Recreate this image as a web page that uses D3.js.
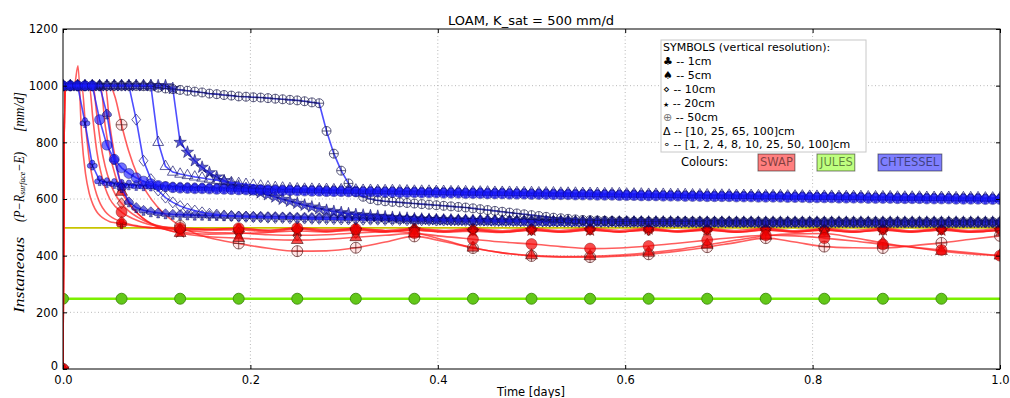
<!DOCTYPE html>
<html><head><meta charset="utf-8">
<script src="https://cdn.jsdelivr.net/npm/d3@7"></script>
<style>body{margin:0;background:#fff}svg{display:block}</style>
</head><body>
<svg id="c" width="1010" height="398"></svg>
<script>
// ---------------- DATA ----------------
const titleText = "LOAM, K_sat = 500 mm/d";
const xTicks = [0, 0.2, 0.4, 0.6, 0.8, 1.0];
const yTicks = [0, 200, 400, 600, 800, 1000, 1200];
const xTickLabels = ["0.0", "0.2", "0.4", "0.6", "0.8", "1.0"];
const yTickLabels = ["0", "200", "400", "600", "800", "1000", "1200"];
const legendGlyphs = ["♣", "♠", "⋄", "★", "⊕", "Δ", "∘"];
const legendTexts = [" -- 1cm", " -- 5cm", " -- 10cm", " -- 20cm", " -- 50cm",
  " -- [10, 25, 65, 100]cm", " -- [1, 2, 4, 8, 10, 25, 50, 100]cm"];
const modelNames = ["SWAP", "JULES", "CHTESSEL"];

// JULES (every 1/16 day)
const julesTime = [0, 0.0625, 0.125, 0.1875, 0.25, 0.3125, 0.375, 0.4375, 0.5, 0.5625, 0.625, 0.6875, 0.75, 0.8125, 0.875, 0.9375, 1.0];
const julesFlux = [248, 248, 248, 248, 248, 248, 248, 248, 248, 248, 248, 248, 248, 248, 248, 248, 248];
const julesCap  = [498, 498, 498, 498, 498, 498, 498, 498, 498, 498, 498, 498, 498, 498, 498, 498, 498];

// SWAP
const swapTime = [0, 0.002, 0.012, 0.016, 0.02, 0.024, 0.028, 0.032, 0.036, 0.04, 0.045, 0.05, 0.056, 0.0625,
  0.07, 0.08, 0.09, 0.1, 0.1125, 0.125, 0.14, 0.156, 0.1875, 0.219, 0.25, 0.281, 0.3125, 0.344, 0.375, 0.406,
  0.4375, 0.469, 0.5, 0.531, 0.5625, 0.594, 0.625, 0.656, 0.6875, 0.719, 0.75, 0.781, 0.8125, 0.844, 0.875,
  0.906, 0.9375, 0.969, 1.0];
const swap1cm = [0, 1000, 1000, 1070, 820, 690, 620, 580, 555, 540, 528, 520, 516, 513,
  508, 503, 500, 498, 496, 495, 494, 493, 496, 488, 497, 488, 497, 489, 497, 489,
  496, 488, 496, 489, 497, 489, 497, 488, 496, 489, 497, 488, 496, 489, 497, 488, 496, 489, 497];
const swap5cm = [0, 1000, 1000, 1000, 1000, 860, 740, 665, 615, 582, 556, 540, 528, 520,
  512, 505, 500, 497, 494, 492, 491, 490, 492, 484, 494, 485, 493, 484, 494, 486,
  492, 484, 493, 485, 494, 484, 492, 485, 493, 484, 494, 485, 492, 484, 493, 485, 494, 484, 492];
const swap10cm = [0, 1000, 1000, 1000, 1000, 1000, 1000, 1000, 900, 800, 715, 660, 615, 585,
  558, 535, 518, 507, 498, 492, 486, 482, 480, 474, 472, 474, 480, 485, 490, 484,
  490, 483, 490, 484, 491, 484, 490, 484, 491, 483, 490, 484, 491, 484, 490, 483, 491, 484, 490];
const swap20cm = [0, 1000, 1000, 1000, 1000, 1000, 1000, 1000, 1000, 1000, 1000, 860, 740, 645,
  590, 548, 520, 503, 490, 483, 478, 476, 478, 482, 487, 484, 490, 484, 491, 483,
  486, 482, 490, 483, 490, 484, 494, 485, 490, 483, 491, 484, 490, 483, 491, 484, 490, 483, 490];
const swap50cm = [0, 1000, 1000, 1000, 1000, 1000, 1000, 1000, 1000, 1000, 1000, 1000, 955, 862,
  770, 680, 620, 575, 535, 505, 480, 463, 443, 426, 416, 417, 428, 448, 468, 450,
  427, 410, 399, 395, 395, 398, 405, 416, 430, 447, 462, 448, 432, 428, 427, 435, 445, 458, 470];
const swap4L = [0, 1000, 1000, 1000, 1000, 1000, 1000, 1000, 1000, 1000, 860, 760, 680, 625,
  585, 548, 522, 505, 490, 480, 472, 467, 462, 457, 455, 458, 465, 472, 478, 455,
  428, 410, 401, 397, 398, 402, 410, 422, 438, 455, 470, 477, 478, 463, 445, 430, 416, 406, 400];
const swap8L = [0, 1000, 1000, 1000, 1000, 1000, 1000, 880, 770, 700, 640, 600, 573, 554,
  538, 523, 512, 505, 500, 498, 495, 493, 497, 490, 498, 492, 494, 488, 480, 468,
  458, 448, 441, 432, 425, 427, 434, 444, 455, 465, 472, 470, 462, 452, 440, 430, 420, 410, 400];

// CHTESSEL (every 1/128 day)
const chtTime = d3.range(129).map(i => i / 128);
const cht1cm = [1000,1000,1000,870,720,665,658,655, 652,650,648,647,646,645,644,643,
  642,641,640,640,639,638,638,637, 636,636,635,635,634,634,633,633,
  632,632,631,631,630,630,630,629, 629,628,628,628,627,627,626,626,
  626,625,625,625,624,624,624,623, 623,623,622,622,622,621,621,621,
  620,620,620,619,619,619,618,618, 618,617,617,617,616,616,616,615,
  615,615,614,614,614,613,613,613, 612,612,612,612,611,611,611,610,
  610,610,610,609,609,609,608,608, 608,608,607,607,607,607,606,606,
  606,606,605,605,605,605,604,604, 604,604,603,603,603,603,602,602, 602];
const cht5cm = [1000,1000,1000,1000,1000,1000,900,740, 640,590,570,560,555,551,548,546,
  545,544,543,543,542,542,541,541, 540,540,539,539,538,538,537,537,
  536,536,535,535,535,534,534,533, 533,533,532,532,531,531,531,530,
  530,530,529,529,529,528,528,528, 527,527,527,526,526,526,525,525,
  525,525,524,524,524,524,523,523, 523,523,523,522,522,522,522,522,
  521,521,521,521,521,521,520,520, 520,520,520,520,520,520,520,519,
  519,519,519,519,519,519,519,519, 519,519,519,519,518,518,518,518,
  518,518,518,518,518,518,518,518, 518,518,518,518,518,518,518,518, 518];
const cht10cm = [1000,1000,1000,1000,1000,1000,1000,1000, 1000,1000,880,735,670,630,605,588,
  575,566,559,553,548,545,542,540, 538,537,536,535,534,533,533,532,
  531,531,530,530,529,529,528,528, 528,527,527,527,526,526,526,525,
  525,525,525,524,524,524,524,523, 523,523,523,522,522,522,522,522,
  521,521,521,521,521,520,520,520, 520,520,520,520,519,519,519,519,
  519,519,519,519,519,519,519,519, 519,519,519,519,518,518,518,518,
  518,518,518,518,518,518,518,518, 518,518,518,518,518,518,518,518,
  518,518,518,518,518,518,518,518, 518,518,518,518,518,518,518,518, 518];
const cht20cm = [1000,1000,1000,1000,1000,1000,1000,1000, 1000,1000,1000,1000,1000,1000,1000,990,
  800,765,735,712,693,678,665,654, 645,637,629,622,615,607,599,592,
  585,578,572,566,560,556,552,548, 545,543,541,539,537,535,533,532,
  530,529,528,527,526,526,525,525, 524,524,523,523,522,522,522,521,
  521,521,520,520,520,520,519,519, 519,519,519,519,519,519,519,519,
  519,519,519,519,518,518,518,518, 518,518,518,518,518,518,518,518,
  518,518,518,518,518,518,518,518, 518,518,518,518,518,518,518,518,
  518,518,518,518,518,518,518,518, 518,518,518,518,518,518,518,518, 518];
const cht50cm = [1000,1000,1000,1000,1000,1000,1000,1000, 1000,1000,999,998,997,993,990,988,
  985,982,979,976,972,970,967,965, 962,961,959,958,956,954,952,950,
  948,945,941,938,840,760,700,655, 625,608,600,595,592,590,588,586,
  584,582,580,578,576,574,572,570, 567,564,561,558,555,552,549,546,
  543,540,537,534,532,530,528,526, 525,524,523,522,521,521,520,520,
  520,520,520,520,520,520,520,520, 519,519,519,519,519,519,519,519,
  519,519,519,519,519,519,519,519, 519,519,519,519,519,519,519,519,
  519,519,519,519,519,519,519,519, 519,519,519,519,519,519,519,519, 519];
const cht4L = [1000,1000,1000,1000,1000,1000,1000,1000, 1000,1000,1000,1000,1000,800,715,695,
  688,683,678,674,670,666,662,658, 655,652,649,646,643,641,639,637,
  636,635,635,634,634,633,633,632, 632,631,631,630,630,630,629,629,
  628,628,628,627,627,626,626,626, 625,625,625,624,624,624,623,623,
  623,622,622,622,621,621,621,620, 620,620,619,619,619,618,618,618,
  617,617,617,616,616,616,615,615, 615,614,614,614,613,613,613,612,
  612,612,612,611,611,611,610,610, 610,610,609,609,609,609,608,608,
  608,608,607,607,607,607,606,606, 606,606,605,605,605,605,604,604, 604];
const cht8L = [1000,1000,1000,1000,1000,880,790,740, 710,690,675,663,654,648,644,640,
  638,637,636,636,635,634,634,633, 632,632,631,631,630,630,629,629,
  628,628,627,627,626,626,626,625, 625,624,624,624,623,623,622,622,
  622,621,621,621,620,620,620,619, 619,619,618,618,618,617,617,617,
  616,616,616,615,615,615,614,614, 614,613,613,613,612,612,612,611,
  611,611,610,610,610,609,609,609, 608,608,608,608,607,607,607,606,
  606,606,606,605,605,605,604,604, 604,604,603,603,603,603,602,602,
  602,602,601,601,601,601,600,600, 600,600,599,599,599,599,598,598, 598];

// ---------------- CHART ----------------
const M = {l: 63, r: 1000, t: 29, b: 369};
const x = d3.scaleLinear().domain([0, 1]).range([M.l, M.r]);
const y = d3.scaleLinear().domain([0, 1200]).range([M.b, M.t]);
const svg = d3.select('#c');
const FONT = "'DejaVu Sans', sans-serif";

svg.append('defs').append('clipPath').attr('id', 'clip')
  .append('rect').attr('x', M.l).attr('y', M.t).attr('width', M.r - M.l).attr('height', M.b - M.t);

// grid
const grid = svg.append('g').attr('stroke', '#8a8a8a').attr('stroke-width', 0.6).attr('stroke-dasharray', '1,2.5');
grid.selectAll('.gx').data(xTicks.slice(1, -1)).join('line')
  .attr('x1', d => x(d)).attr('x2', d => x(d)).attr('y1', M.t).attr('y2', M.b);
grid.selectAll('.gy').data(yTicks.slice(1, -1)).join('line')
  .attr('y1', d => y(d)).attr('y2', d => y(d)).attr('x1', M.l).attr('x2', M.r);

// marker shapes (unit size)
function circ(cx, cy, r) {
  return `M${cx - r},${cy}a${r},${r} 0 1,0 ${2 * r},0a${r},${r} 0 1,0 ${-2 * r},0Z`;
}
const shapes = {
  club: circ(0, -0.24, 0.25) + circ(-0.25, 0.08, 0.25) + circ(0.25, 0.08, 0.25) + 'M-0.14,0.5L0,0.05L0.14,0.5Z',
  spade: 'M0,-0.5C0.15,-0.3,0.5,-0.12,0.46,0.12C0.42,0.32,0.14,0.32,0.05,0.18L0.15,0.5L-0.15,0.5L-0.05,0.18C-0.14,0.32,-0.42,0.32,-0.46,0.12C-0.5,-0.12,-0.15,-0.3,0,-0.5Z',
  diamond: 'M0,-0.5L0.4,0L0,0.5L-0.4,0Z',
  star: d3.symbol(d3.symbolStar, 0.33)(),
  oplus: circ(0, 0, 0.5) + 'M-0.5,0H0.5M0,-0.5V0.5',
  tri: d3.symbol(d3.symbolTriangle, 0.42)(),
  circle: circ(0, 0, 0.5)
};

const plot = svg.append('g').attr('clip-path', 'url(#clip)');

function drawLine(g, ts, vs, color, width, opacity, curve) {
  const pts = ts.map((t, i) => [t, vs[i]]);
  g.append('path').datum(pts)
    .attr('d', d3.line().x(d => x(d[0])).y(d => y(d[1])).curve(curve))
    .attr('fill', 'none').attr('stroke', color).attr('stroke-width', width).attr('stroke-opacity', opacity)
    .attr('stroke-linejoin', 'round');
  return pts;
}
function drawMarkers(g, pts, shape, size, fill, stroke, sw) {
  g.selectAll(null).data(pts).join('path')
    .attr('d', shapes[shape])
    .attr('transform', d => `translate(${x(d[0])},${y(d[1])}) scale(${size})`)
    .attr('fill', fill).attr('stroke', stroke).attr('stroke-width', sw)
    .attr('vector-effect', 'non-scaling-stroke');
}

// JULES
const gJ = plot.append('g');
drawLine(gJ, julesTime, julesCap, '#c8c400', 1.6, 1, d3.curveLinear);
const jPts = drawLine(gJ, julesTime, julesFlux, '#7cf000', 2.6, 1, d3.curveLinear);
drawMarkers(gJ, jPts.filter(d => d[0] < 1), 'circle', 11, '#62c818', '#3f8a0c', 0.9);

// SWAP
const swapSeries = [
  {v: swap1cm, shape: 'club', size: 10, fill: 'rgba(240,0,0,0.75)', stroke: 'rgba(90,0,0,0.6)'},
  {v: swap5cm, shape: 'spade', size: 11, fill: 'rgba(240,0,0,0.75)', stroke: 'rgba(90,0,0,0.6)'},
  {v: swap10cm, shape: 'diamond', size: 11, fill: 'rgba(240,0,0,0.35)', stroke: 'rgba(80,20,20,0.8)'},
  {v: swap20cm, shape: 'star', size: 12, fill: 'rgba(230,0,0,0.8)', stroke: 'rgba(90,0,0,0.6)'},
  {v: swap50cm, shape: 'oplus', size: 11, fill: 'rgba(255,80,80,0.15)', stroke: 'rgba(80,25,25,0.85)'},
  {v: swap4L, shape: 'tri', size: 12, fill: 'rgba(240,0,0,0.7)', stroke: 'rgba(80,20,20,0.8)'},
  {v: swap8L, shape: 'circle', size: 11, fill: 'rgba(245,0,0,0.7)', stroke: 'rgba(120,0,0,0.5)'}
];
const gS = plot.append('g');
swapSeries.forEach(s => {
  s.pts = drawLine(gS, swapTime, s.v, '#ff1a1a', 1.6, 0.7, d3.curveMonotoneX);
});
swapSeries.forEach(s => {
  const mk = s.pts.filter(d => Math.abs(d[0] * 16 - Math.round(d[0] * 16)) < 1e-6);
  drawMarkers(gS, mk, s.shape, s.size, s.fill, s.stroke, 0.8);
});

// CHTESSEL
const chtSeries = [
  {v: cht1cm, shape: 'club', size: 10, fill: 'rgba(10,10,255,0.6)', stroke: 'rgba(0,0,90,0.55)'},
  {v: cht5cm, shape: 'spade', size: 10, fill: 'rgba(10,10,200,0.6)', stroke: 'rgba(0,0,70,0.6)'},
  {v: cht10cm, shape: 'diamond', size: 11, fill: 'none', stroke: 'rgba(20,20,110,0.85)'},
  {v: cht20cm, shape: 'star', size: 12, fill: 'rgba(20,20,200,0.7)', stroke: 'rgba(0,0,80,0.6)'},
  {v: cht50cm, shape: 'oplus', size: 9, fill: 'none', stroke: 'rgba(20,20,70,0.85)'},
  {v: cht4L, shape: 'tri', size: 11, fill: 'none', stroke: 'rgba(20,20,110,0.85)'},
  {v: cht8L, shape: 'circle', size: 10, fill: 'rgba(20,20,255,0.6)', stroke: 'rgba(0,0,90,0.5)'}
];
const gC = plot.append('g');
chtSeries.forEach(s => {
  const pts = drawLine(gC, chtTime, s.v, '#2222ff', 1.6, 0.8, d3.curveLinear);
  drawMarkers(gC, pts, s.shape, s.size, s.fill, s.stroke, 0.8);
});

// frame
svg.append('rect').attr('x', M.l).attr('y', M.t).attr('width', M.r - M.l).attr('height', M.b - M.t)
  .attr('fill', 'none').attr('stroke', '#000').attr('stroke-width', 1);

// axes
svg.append('g').attr('transform', `translate(0,${M.b})`)
  .call(d3.axisBottom(x).tickValues(xTicks).tickFormat((d, i) => xTickLabels[i]).tickSize(-4).tickPadding(7));
const ay = svg.append('g').attr('transform', `translate(${M.l},0)`)
  .call(d3.axisLeft(y).tickValues(yTicks).tickFormat((d, i) => yTickLabels[i]).tickSize(-4).tickPadding(5));
svg.append('g').attr('transform', `translate(0,${M.t})`)
  .call(d3.axisTop(x).tickValues(xTicks).tickFormat('').tickSize(-4));
svg.append('g').attr('transform', `translate(${M.r},0)`)
  .call(d3.axisRight(y).tickValues(yTicks).tickFormat('').tickSize(-4));
svg.selectAll('.domain').remove();
svg.selectAll('.tick text').attr('font-family', FONT).attr('font-size', 11.5).attr('fill', '#000');
svg.selectAll('.tick line').attr('stroke', '#000');
// lift the "0" label slightly so it does not collide with "0.0"
ay.selectAll('.tick text').filter(d => d === 0).attr('y', -3);

// title & labels
svg.append('text').attr('x', 531).attr('y', 25).attr('text-anchor', 'middle')
  .attr('font-family', FONT).attr('font-size', 13).text(titleText);
svg.append('text').attr('x', 531).attr('y', 396).attr('text-anchor', 'middle')
  .attr('font-family', FONT).attr('font-size', 11.5).text('Time [days]');

const SERIF = "'Liberation Serif', 'DejaVu Serif', serif";
function yLab(cy, len, build) {
  const t = svg.append('text').attr('transform', `translate(19,${cy}) rotate(-90)`)
    .attr('text-anchor', 'middle').attr('dominant-baseline', 'central')
    .attr('font-family', SERIF).attr('font-style', 'italic').attr('font-size', 14)
    .attr('textLength', len).attr('lengthAdjust', 'spacingAndGlyphs');
  build(t);
}
yLab(275, 76, t => t.text('Instaneous'));
yLab(187, 70, t => {
  t.append('tspan').text('(P−R');
  t.append('tspan').attr('font-size', 9).attr('dy', 3).text('surface');
  t.append('tspan').attr('dy', -3).text('−E)');
});
yLab(112, 40, t => t.text('[mm/d]'));

// legend
const lg = svg.append('g');
lg.append('rect').attr('x', 661).attr('y', 40).attr('width', 205).attr('height', 112)
  .attr('fill', '#fff').attr('stroke', '#c8c8c8').attr('stroke-width', 1);
lg.append('text').attr('x', 663).attr('y', 51).attr('font-family', FONT).attr('font-size', 11)
  .text('SYMBOLS (vertical resolution):');
const glyphSize = [11, 11, 11, 7, 11, 11, 11];
const glyphCol = ['#000', '#000', '#000', '#000', '#777', '#000', '#000'];
legendTexts.forEach((s, i) => {
  const t = lg.append('text').attr('x', 663).attr('y', 65 + i * 13.9).attr('font-family', FONT).attr('font-size', 11);
  t.append('tspan').attr('font-size', glyphSize[i]).attr('fill', glyphCol[i]).text(legendGlyphs[i]);
  t.append('tspan').text(s);
});
lg.append('text').attr('x', 681).attr('y', 166).attr('font-family', FONT).attr('font-size', 11.5).text('Colours:');
const boxCols = ['rgba(255,0,0,0.5)', 'rgba(127,255,0,0.5)', 'rgba(0,0,255,0.5)'];
const boxX = [760, 820, 880];
modelNames.forEach((n, i) => {
  const t = lg.append('text').attr('x', boxX[i]).attr('y', 166).attr('font-family', FONT)
    .attr('font-size', 11.5).attr('fill', 'rgba(0,0,0,0.5)').text(n);
  const bb = t.node().getBBox();
  lg.insert('rect', () => t.node()).attr('x', bb.x - 2).attr('y', 154).attr('width', bb.width + 4).attr('height', 17)
    .attr('fill', boxCols[i]).attr('stroke', 'rgba(0,0,0,0.5)').attr('stroke-width', 1);
});
</script>
</body></html>
